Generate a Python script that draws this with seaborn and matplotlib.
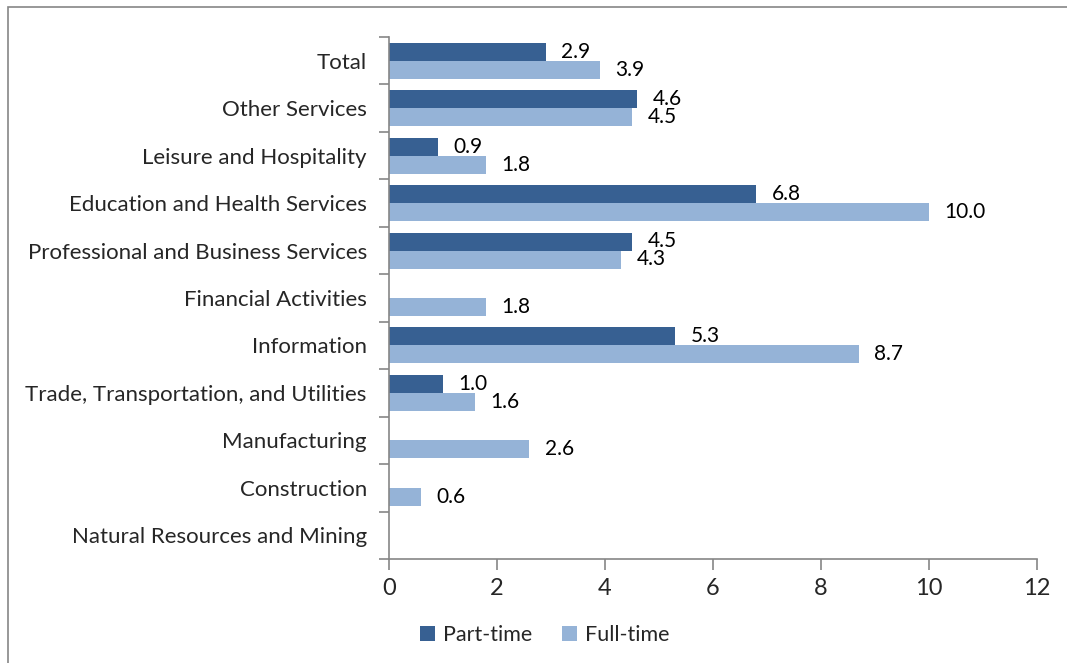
import numpy as np
import pandas as pd
import matplotlib
matplotlib.use("Agg")
import matplotlib.pyplot as plt
from matplotlib.patches import Rectangle
import seaborn as sns

industries = [
    "Total",
    "Other Services",
    "Leisure and Hospitality",
    "Education and Health Services",
    "Professional and Business Services",
    "Financial Activities",
    "Information",
    "Trade, Transportation, and Utilities",
    "Manufacturing",
    "Construction",
    "Natural Resources and Mining",
]
part_time = [2.9, 4.6, 0.9, 6.8, 4.5, np.nan, 5.3, 1.0, np.nan, np.nan, np.nan]
full_time = [3.9, 4.5, 1.8, 10.0, 4.3, 1.8, 8.7, 1.6, 2.6, 0.6, np.nan]
series_names = ["Part-time", "Full-time"]
x_ticks = [0, 2, 4, 6, 8, 10, 12]

df = pd.DataFrame({
    "Industry": industries * 2,
    "Series": [series_names[0]] * len(industries) + [series_names[1]] * len(industries),
    "Value": part_time + full_time,
})
# industries without a reported value get an empty (zero-length) bar
df["Drawn"] = df["Value"].fillna(0.0)

sns.set_theme(style="white")
plt.rcParams["font.family"] = ["Lato", "DejaVu Sans"]

axis_grey = "#868686"
palette = {"Part-time": "#376092", "Full-time": "#95B3D7"}

fig = plt.figure(figsize=(10.67, 6.63), dpi=100)
ax = fig.add_axes([0.3646, 0.1569, 0.9719 - 0.3646, 0.9442 - 0.1569])

sns.barplot(
    data=df, y="Industry", x="Drawn", hue="Series", order=industries,
    hue_order=series_names, palette=palette, orient="h", width=0.76,
    dodge=True, errorbar=None, ax=ax, saturation=1, legend=True,
    linewidth=0,
)

# value labels beside each bar, sitting slightly low
for cont, vals in zip(ax.containers, [part_time, full_time]):
    labels = ["" if np.isnan(v) else f"{v:.1f}" for v in vals]
    texts = ax.bar_label(cont, labels=labels, padding=11, fontsize=15, color="black")
    for t in texts:
        x, y = t.get_position()
        t.set_va("center")
        t.set_position((x, y + 0.05))

ax.set_xlim(0, 12)
ax.set_xticks(x_ticks)
ax.set_xticklabels([str(t) for t in x_ticks], fontsize=17)
ax.set_ylim(len(industries) - 0.5, -0.5)
ax.set_xlabel("")
ax.set_ylabel("")

# category ticks sit on the boundaries between groups
ax.set_yticks(np.arange(-0.5, len(industries), 1.0))
ax.set_yticklabels([])
ax.set_yticks(np.arange(len(industries)), minor=True)
ax.set_yticklabels(industries, minor=True, fontsize=16)
ax.tick_params(axis="y", which="minor", length=0, pad=16)
ax.tick_params(axis="y", which="major", length=7, width=1.2, color=axis_grey, direction="out", left=True)
ax.tick_params(axis="x", length=8, width=1.2, color=axis_grey, direction="out", bottom=True, pad=6)

for side in ["top", "right"]:
    ax.spines[side].set_visible(False)
for side in ["left", "bottom"]:
    ax.spines[side].set_color(axis_grey)
    ax.spines[side].set_linewidth(1.2)

leg = ax.legend(
    loc="upper center", bbox_to_anchor=(0.24, -0.09), ncol=2, frameon=False,
    fontsize=15.5, handlelength=0.7, handleheight=0.7, handletextpad=0.35,
    columnspacing=1.4,
)

# chart-area frame
fig.patches.append(Rectangle((8 / 1067, -0.05), 1.2, 1 - 7 / 663 + 0.05,
                             transform=fig.transFigure, fill=False,
                             edgecolor=axis_grey, linewidth=1.2))

fig.savefig("out.png", dpi=100)
